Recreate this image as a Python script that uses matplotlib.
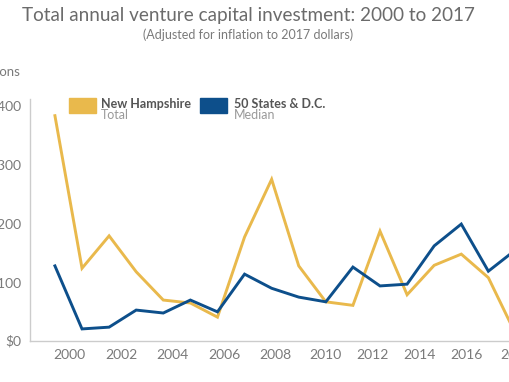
import matplotlib.pyplot as plt
import matplotlib.patches as mpatches

plt.rcParams["font.family"] = ["Lato", "DejaVu Sans"]

years = list(range(2000, 2018))
nh_total = [382, 123, 178, 117, 69, 64, 40, 176, 274, 127, 66, 60, 186, 78, 128, 147, 107, 12]
us_median = [127, 20, 23, 52, 47, 69, 49, 113, 89, 74, 66, 125, 93, 96, 161, 198, 118, 154]
tick_labels = ["2000", "2002", "2004", "2006", "2008", "2010", "2012", "2014", "2016", "2018"]
tick_pos = [2000.52, 2002.44, 2004.32, 2006.24, 2008.15, 2010.0, 2011.73, 2013.47, 2015.2, 2017.05]
y_ticks = [0, 100, 200, 300, 400]

gold = "#E9B94C"
navy = "#0D4F8B"
grey = "#7a7a7a"

fig = plt.figure(figsize=(5.1, 3.82), dpi=100)
ax = fig.add_axes([30 / 510, 1 - 340.7 / 382, 499 / 510, 241.5 / 382])

ax.plot(years, nh_total, color=gold, linewidth=2.1, solid_joinstyle="miter")
ax.plot(years, us_median, color=navy, linewidth=2.1, solid_joinstyle="miter")

ax.set_xlim(1999.08, 2017.5)
ax.set_ylim(0, 410)
ax.set_xticks(tick_pos)
ax.set_xticklabels(tick_labels)
ax.set_yticks(y_ticks)
ax.set_yticklabels(["$" + str(v) for v in y_ticks])
ax.tick_params(length=0, labelsize=10, labelcolor=grey)
ax.tick_params(axis="x", pad=6)
ax.tick_params(axis="y", pad=6)
for s in ["top", "right"]:
    ax.spines[s].set_visible(False)
for s in ["left", "bottom"]:
    ax.spines[s].set_color("#cccccc")
    ax.spines[s].set_linewidth(1.0)

# titles
fig.text(248 / 510, 1 - 16 / 382, "Total annual venture capital investment: 2000 to 2017",
         ha="center", va="center", fontsize=13.6, color="#6b6b6b")
fig.text(248 / 510, 1 - 35 / 382, "(Adjusted for inflation to 2017 dollars)",
         ha="center", va="center", fontsize=9, color=grey)
fig.text(21 / 510, 1 - 72 / 382, "Millions", ha="right", va="center", fontsize=9.5, color=grey)

# legend
fig.patches.append(mpatches.Rectangle((69 / 510, 1 - 113 / 382), 27 / 510, 15 / 382,
                                      transform=fig.transFigure, color=gold))
fig.patches.append(mpatches.Rectangle((200 / 510, 1 - 113 / 382), 27 / 510, 15 / 382,
                                      transform=fig.transFigure, color=navy))
fig.text(101 / 510, 1 - 104 / 382, "New Hampshire", ha="left", va="center",
         fontsize=9, fontweight="bold", color="#555555")
fig.text(101 / 510, 1 - 115 / 382, "Total", ha="left", va="center", fontsize=9, color="#999999")
fig.text(234 / 510, 1 - 104 / 382, "50 States & D.C.", ha="left", va="center",
         fontsize=9, fontweight="bold", color="#555555")
fig.text(234 / 510, 1 - 115 / 382, "Median", ha="left", va="center", fontsize=9, color="#999999")

fig.savefig("out.png", dpi=100)
